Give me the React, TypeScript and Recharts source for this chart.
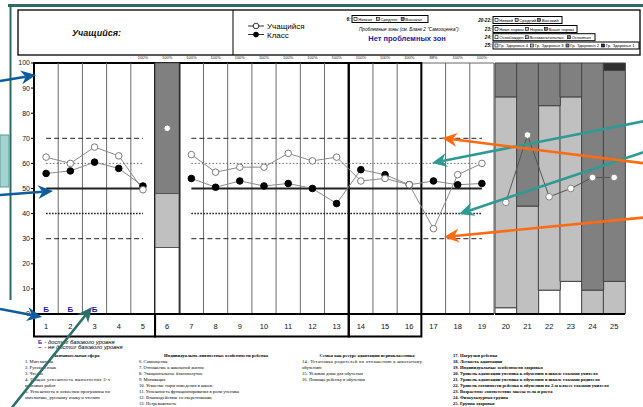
import {
  Bar,
  ComposedChart,
  LabelList,
  Line,
  ReferenceArea,
  ReferenceLine,
  XAxis,
  YAxis,
} from 'recharts'

// ---- data ----
const CATS_MAIN = [1, 2, 3, 4, 5, 6, 7, 8, 9, 10, 11, 12, 13, 14, 15, 16, 17, 18, 19]
const STUDENT_MAIN = [62.5, 60, 66.5, 63, 49.5, null, 63.5, 56.5, 58.5, 58.5, 64, 61, 62.5, 53, 54, 51.5, 34, 55.5, 60]
const CLASS_MAIN = [56, 57, 60.5, 58, 51, null, 54, 50.5, 53, 51, 52, 50, 44, 57.5, 55.5, 51.5, 53, 51.5, 52]
const SELF_CAT = 6
const SELF_STUDENT = 74
const SELF_BAR = [26.5, 21.5, 52] // low / mid / high share for category 6
const PCT_LABELS = ['', '', '', '', '100%', '100%', '100%', '100%', '100%', '100%', '100%', '100%', '100%', '100%', '100%', '100%', '88%', '100%', '100%']
const BASE_MARKS = ['Б', 'Б', 'Б', '', '', '', '', '', '', '', '', '', '', '', '', '', '', '', '']

const CATS_RIGHT = ['20', '21', '22', '23', '24', '25']
const STUDENT_RIGHT = [44.5, 71.3, 46.7, 50, 54.4, 54.4]
const BAR_LOW = [2.5, null, 9.5, 13, null, null]
const BAR_MID = [84, 43, 73.5, 73.5, 9.5, 13]
const BAR_HIGH = [13.5, 57, 17, 13.5, 90.5, 84]
const BAR_TOP = [null, null, null, null, null, 3]

const Y_TICKS = [0, 10, 20, 30, 40, 50, 60, 70, 80, 90, 100]
const LEVELS = [70, 60, 50, 40, 30]
const REF_SPANS = [[1, 5], [7, 19]]
const PLOT_BOXES = [[1, 5], [6, 6], [7, 13], [14, 16]]
const OPEN_SPAN = [17, 19]
const LABEL_BOXES = [[1, 5], [6, 13], [14, 16]]

const LEGEND_6 = ['Низкая', 'Средняя', 'Высокая']
const LEGEND_20 = ['Низкий', 'Средний', 'Высокий']
const LEGEND_23 = ['Ниже нормы', 'Норма', 'Выше нормы']
const LEGEND_24 = ['Освобожден', 'Вспомогательная', 'Основная']
const LEGEND_25 = ['Гр. Здоровья 4', 'Гр. Здоровья 3', 'Гр. Здоровья 2', 'Гр. Здоровья 1']

const COL1_TITLE = 'Познавательная сфера'
const COL1 = ['1. Математика', '2. Русский язык', '3. Чтение', '4. Общая успешность выполнения 3-х', 'итоговых работ', '5. Успешность в освоении программы по', 'математике, русскому языку и чтению']
const COL2_TITLE = 'Индивидуально-личностные особенности ребенка'
const COL2 = ['6. Самооценка', '7. Отношение к школьной жизни', '8. Эмоциональное благополучие', '9. Мотивация', '10. Усвоение норм поведения в школе', '11. Успешность функционирования в роли ученика', '12. Взаимодействие со сверстниками', '13. Нетревожность']
const COL3_TITLE = 'Семья как ресурс адаптации первоклассника'
const COL3 = ['14. Установка родителей по отношению к школьному', 'обучению', '15. Условия дома для обучения', '16. Помощь ребенку в обучении']
const COL4 = ['17. Нагрузки ребенка', '18. Легкость адаптации', '19. Индивидуальные особенности здоровья', '20. Уровень адаптации ученика к обучению в школе глазами учителя', '21. Уровень адаптации ученика к обучению в школе глазами родителя', '22. Уровень готовности ребенка к обучению во 2-м классе глазами учителя', '23. Возрастное соответствие массы тела и роста', '24. Физкультурная группа', '25. Группа здоровья']

// ---- styling ----
const SANS = '"Liberation Sans", Arial, sans-serif'
const SERIF = '"Liberation Serif", "Times New Roman", serif'
const WHITE = '#ffffff'
const LIGHT = '#c0c0c0'
const DARK = '#808080'
const DARKEST = '#303030'
const SWATCH = [WHITE, LIGHT, DARK, DARKEST]
const LINE_GREY = '#8a8a8a'
const TEAL = '#2f9a94'
const BLUE = '#0d5c9e'
const ORANGE = '#ff6a12'
const FRAME = '#2e6b66'
const LABEL_ROW = -9 // depth of the boxed label row, in y units

const mainData = CATS_MAIN.map((x, i) => ({
  x,
  student: STUDENT_MAIN[i],
  cls: CLASS_MAIN[i],
  self: x === SELF_CAT ? SELF_STUDENT : null,
  low: x === SELF_CAT ? SELF_BAR[0] : null,
  mid: x === SELF_CAT ? SELF_BAR[1] : null,
  high: x === SELF_CAT ? SELF_BAR[2] : null,
  mark: BASE_MARKS[i] || null,
  markAt: BASE_MARKS[i] ? 0 : null,
}))

const rightData = CATS_RIGHT.map((cat, i) => ({
  cat,
  student: STUDENT_RIGHT[i],
  low: BAR_LOW[i],
  mid: BAR_MID[i],
  high: BAR_HIGH[i],
  top: BAR_TOP[i],
}))

const X_DOMAIN = [CATS_MAIN[0] - 0.5, CATS_MAIN[CATS_MAIN.length - 1] + 0.5]

const thinDividers: number[] = []
for (const [a, b] of [...PLOT_BOXES, OPEN_SPAN]) {
  for (let k = a; k < b; k++) thinDividers.push(k + 0.5)
}

const LEVEL_STYLE: Record<number, any> = {
  70: { stroke: '#222', strokeWidth: 1, strokeDasharray: '5 3' },
  60: { stroke: '#666', strokeWidth: 1, strokeDasharray: '1.5 2' },
  50: { stroke: '#222', strokeWidth: 2 },
  40: { stroke: '#111', strokeWidth: 1.5, strokeDasharray: '1.5 1.5' },
  30: { stroke: '#222', strokeWidth: 1, strokeDasharray: '5 3' },
}

const openDot = { r: 3.3, fill: '#fff', stroke: '#7a7a7a', strokeWidth: 1 }
const fullDot = { r: 3.3, fill: '#000', stroke: '#000', strokeWidth: 1 }

function Arrow({ from, to, color }: { from: number[]; to: number[]; color: string }) {
  const [x1, y1] = from
  const [x2, y2] = to
  const len = Math.hypot(x2 - x1, y2 - y1)
  const ux = (x2 - x1) / len
  const uy = (y2 - y1) / len
  const px = -uy
  const py = ux
  const L = 15
  const W = 7
  const N = 10.5
  const bx = x2 - ux * L
  const by = y2 - uy * L
  const nx = x2 - ux * N
  const ny = y2 - uy * N
  const pts = [
    [x2, y2],
    [bx + px * W, by + py * W],
    [nx, ny],
    [bx - px * W, by - py * W],
  ]
  return (
    <g>
      <line x1={x1} y1={y1} x2={nx} y2={ny} stroke={color} strokeWidth={2.6} />
      <polygon points={pts.map((p) => p.join(',')).join(' ')} fill={color} />
    </g>
  )
}

function LegendBox({ x, y, w, label, items }: { x: number; y: number; w: number; label: string; items: string[] }) {
  const fs = 4.2
  const est = items.map((t) => t.length * fs * 0.52 + 6)
  const total = est.reduce((a, b) => a + b, 0)
  const k = (w - 4) / total
  let cx = x + 2
  return (
    <g fontFamily={SANS}>
      <text x={x - 1.5} y={y + 5.2} fontSize={4.6} fontStyle="italic" fontWeight="bold" textAnchor="end">
        {label}
      </text>
      <rect x={x} y={y} width={w} height={7} fill="none" stroke="#000" strokeWidth={1} />
      {items.map((t, i) => {
        const sx = cx
        cx += est[i] * k
        return (
          <g key={t}>
            <rect x={sx} y={y + 2} width={3} height={3} fill={SWATCH[i]} stroke="#000" strokeWidth={0.6} />
            <text x={sx + 4.2} y={y + 5} fontSize={fs}>
              {t}
            </text>
          </g>
        )
      })}
    </g>
  )
}

function TextColumn({ x, y, lines, bold, justify, width }: { x: number; y: number; lines: string[]; bold?: boolean; justify?: number[]; width?: number }) {
  return (
    <g fontFamily={SERIF} fontSize={4.6} fontWeight={bold ? 'bold' : 'normal'}>
      {lines.map((t, i) => (
        <text
          key={t}
          x={x}
          y={y + i * 6}
          {...(justify?.includes(i) && width ? { textLength: width, lengthAdjust: 'spacing' } : {})}
        >
          {t}
        </text>
      ))}
    </g>
  )
}

function Overlay() {
  return (
    <svg width={643} height={407} style={{ position: 'absolute', left: 0, top: 0, pointerEvents: 'none' }}>
      {/* frame */}
      <line x1={8} y1={5.5} x2={643} y2={5.5} stroke={FRAME} strokeWidth={3} />
      <line x1={10.5} y1={4} x2={10.5} y2={300} stroke={FRAME} strokeWidth={2} />
      <rect x={0} y={135} width={9} height={52} fill="#a4d3cf" stroke="#5c9c97" strokeWidth={1} />

      {/* header */}
      <rect x={18} y={10} width={622} height={45} fill="none" stroke="#000" strokeWidth={1.3} />
      <line x1={233} y1={10} x2={233} y2={55} stroke="#000" strokeWidth={1} />
      <text x={72} y={36} fontFamily={SANS} fontSize={9} fontStyle="italic" fontWeight="bold" fill="#111">
        Учащийся:
      </text>
      <line x1={248} y1={26} x2={264} y2={26} stroke="#333" strokeWidth={1} />
      <circle cx={256} cy={26} r={2.8} fill="#fff" stroke="#333" strokeWidth={1} />
      <text x={267} y={29} fontFamily={SANS} fontSize={8}>Учащийся</text>
      <line x1={248} y1={34.5} x2={264} y2={34.5} stroke="#333" strokeWidth={1} />
      <circle cx={256} cy={34.5} r={2.8} fill="#000" />
      <text x={267} y={37.5} fontFamily={SANS} fontSize={8}>Класс</text>

      <LegendBox x={352} y={15.5} w={76} label="6:" items={LEGEND_6} />
      <text x={359} y={31} fontFamily={SANS} fontSize={4.6} fontStyle="italic">
        Проблемные зоны (см. Бланк 2 "Самооценка"):
      </text>
      <text x={407} y={41} fontFamily={SANS} fontSize={7.5} fontWeight="bold" fill="#1b1b9c" textAnchor="middle">
        Нет проблемных зон
      </text>
      <LegendBox x={493} y={16.5} w={69} label="20-22:" items={LEGEND_20} />
      <LegendBox x={493} y={25.5} w={84} label="23:" items={LEGEND_23} />
      <LegendBox x={493} y={33.7} w={102} label="24:" items={LEGEND_24} />
      <LegendBox x={493} y={42} w={146} label="25:" items={LEGEND_25} />

      {/* key under the chart */}
      <g fontFamily={SANS} fontSize={5.8} fontStyle="italic">
        <text x={38} y={344} fill="#2323b0" fontStyle="normal" fontWeight="bold">Б</text>
        <text x={44.5} y={344}>- достиг базового уровня</text>
        <text x={38} y={349} fontStyle="normal" fontWeight="bold">–</text>
        <text x={44.5} y={349}>- не достиг базового уровня</text>
      </g>
      <g fontFamily={SERIF} fontSize={4.6} fontWeight="bold" textAnchor="middle">
        <text x={76} y={357}>{COL1_TITLE}</text>
        <text x={216} y={357}>{COL2_TITLE}</text>
        <text x={367} y={357}>{COL3_TITLE}</text>
      </g>
      <TextColumn x={25} y={363} lines={COL1} justify={[3, 5]} width={85} />
      <TextColumn x={139} y={363} lines={COL2} />
      <TextColumn x={302} y={363} lines={COL3} justify={[0]} width={120} />
      <TextColumn x={453} y={357} lines={COL4} bold />

      {/* annotation arrows */}
      <Arrow from={[0, 81]} to={[36, 75]} color={BLUE} />
      <Arrow from={[0, 195]} to={[53, 191]} color={BLUE} />
      <Arrow from={[0, 309]} to={[42, 317]} color={BLUE} />
      <Arrow from={[10, 410]} to={[92, 307]} color="#2d6f6a" />
      <Arrow from={[650, 120]} to={[432, 163]} color={TEAL} />
      <Arrow from={[650, 150]} to={[459, 214]} color={TEAL} />
      <Arrow from={[650, 164]} to={[442, 138]} color={ORANGE} />
      <Arrow from={[650, 217]} to={[444, 237]} color={ORANGE} />
    </svg>
  )
}

export default function App() {
  return (
    <div style={{ position: 'absolute', left: 0, top: 0, width: 643, height: 407, overflow: 'hidden', background: '#fff' }}>
      <div style={{ position: 'absolute', left: 0, top: 0 }}>
        <ComposedChart
          width={643}
          height={407}
          data={mainData}
          barCategoryGap={0}
          margin={{ top: 51, right: 149, bottom: 70, left: 4 }}
        >
          <XAxis
            dataKey="x"
            type="number"
            domain={X_DOMAIN}
            allowDataOverflow
            ticks={CATS_MAIN}
            interval={0}
            height={23}
            tickSize={0}
            tickMargin={9.5}
            tickLine={false}
            axisLine={{ stroke: '#000', strokeWidth: 2 }}
            tick={{ fontSize: 7.5, fill: '#111', fontFamily: SANS }}
          />
          <XAxis
            xAxisId="top"
            dataKey="x"
            type="number"
            domain={X_DOMAIN}
            allowDataOverflow
            ticks={CATS_MAIN}
            orientation="top"
            interval={0}
            height={12}
            tickSize={0}
            tickMargin={4.5}
            tickLine={false}
            axisLine={false}
            tickFormatter={(v: number) => PCT_LABELS[v - 1]}
            tick={{ fontSize: 4, fill: '#222', fontFamily: SANS }}
          />
          <YAxis
            width={30}
            domain={[0, 100]}
            ticks={Y_TICKS}
            tickSize={3}
            tickMargin={1}
            axisLine={{ stroke: '#000', strokeWidth: 2 }}
            tickLine={{ stroke: '#000' }}
            tick={{ fontSize: 7, fill: '#111', fontFamily: SANS }}
          />

          <ReferenceArea
            x1={OPEN_SPAN[0] - 0.5}
            x2={OPEN_SPAN[1] + 0.5}
            y1={0}
            y2={100}
            fill="none"
            fillOpacity={0}
            stroke="#666"
            strokeWidth={1}
            ifOverflow="visible"
          />
          {thinDividers.map((x) => (
            <ReferenceLine key={x} x={x} stroke="#6a6a6a" strokeWidth={1} />
          ))}

          <Bar dataKey="low" stackId="s" fill={WHITE} stroke="#555" strokeWidth={1} isAnimationActive={false} />
          <Bar dataKey="mid" stackId="s" fill={LIGHT} stroke="#555" strokeWidth={1} isAnimationActive={false} />
          <Bar dataKey="high" stackId="s" fill={DARK} stroke="#555" strokeWidth={1} isAnimationActive={false} />

          {REF_SPANS.flatMap(([a, b]) =>
            LEVELS.map((lv) => (
              <ReferenceLine
                key={`${a}-${lv}`}
                segment={[{ x: a, y: lv }, { x: b, y: lv }]}
                {...LEVEL_STYLE[lv]}
              />
            )),
          )}

          {PLOT_BOXES.map(([a, b]) => (
            <ReferenceArea
              key={`p${a}`}
              x1={a - 0.5}
              x2={b + 0.5}
              y1={0}
              y2={100}
              fill="none"
              fillOpacity={0}
              stroke="#000"
              strokeWidth={2}
              ifOverflow="visible"
            />
          ))}
          {LABEL_BOXES.map(([a, b]) => (
            <ReferenceArea
              key={`l${a}`}
              x1={a - 0.5}
              x2={b + 0.5}
              y1={LABEL_ROW}
              y2={0}
              fill="none"
              fillOpacity={0}
              stroke="#000"
              strokeWidth={2}
              ifOverflow="visible"
            />
          ))}

          <Line dataKey="cls" stroke={LINE_GREY} strokeWidth={1} dot={fullDot} activeDot={false} isAnimationActive={false} />
          <Line dataKey="student" stroke={LINE_GREY} strokeWidth={1} dot={openDot} activeDot={false} isAnimationActive={false} />
          <Line dataKey="self" stroke="none" dot={openDot} activeDot={false} isAnimationActive={false} />
          <Line dataKey="markAt" stroke="none" dot={false} activeDot={false} isAnimationActive={false}>
            <LabelList dataKey="mark" position="top" offset={2} fill="#2323b0" fontSize={8} fontWeight="bold" fontFamily={SANS} />
          </Line>
        </ComposedChart>
      </div>

      <div style={{ position: 'absolute', left: 0, top: 0 }}>
        <ComposedChart
          width={643}
          height={407}
          data={rightData}
          barCategoryGap={0}
          margin={{ top: 63, right: 18, bottom: 70, left: 495 }}
        >
          <XAxis
            dataKey="cat"
            interval={0}
            height={23}
            tickSize={0}
            tickMargin={9.5}
            tickLine={false}
            axisLine={{ stroke: '#000', strokeWidth: 2 }}
            tick={{ fontSize: 7.5, fill: '#111', fontFamily: SANS }}
          />
          <YAxis domain={[0, 100]} hide />
          <Bar dataKey="low" stackId="r" fill={WHITE} stroke="#444" strokeWidth={1} isAnimationActive={false} />
          <Bar dataKey="mid" stackId="r" fill={LIGHT} stroke="#444" strokeWidth={1} isAnimationActive={false} />
          <Bar dataKey="high" stackId="r" fill={DARK} stroke="#444" strokeWidth={1} isAnimationActive={false} />
          <Bar dataKey="top" stackId="r" fill={DARKEST} stroke="#444" strokeWidth={1} isAnimationActive={false} />
          <Line dataKey="student" stroke="#555" strokeWidth={1} dot={{ r: 3.3, fill: '#fff', stroke: '#888', strokeWidth: 1 }} activeDot={false} isAnimationActive={false} />
        </ComposedChart>
      </div>

      <Overlay />
    </div>
  )
}
